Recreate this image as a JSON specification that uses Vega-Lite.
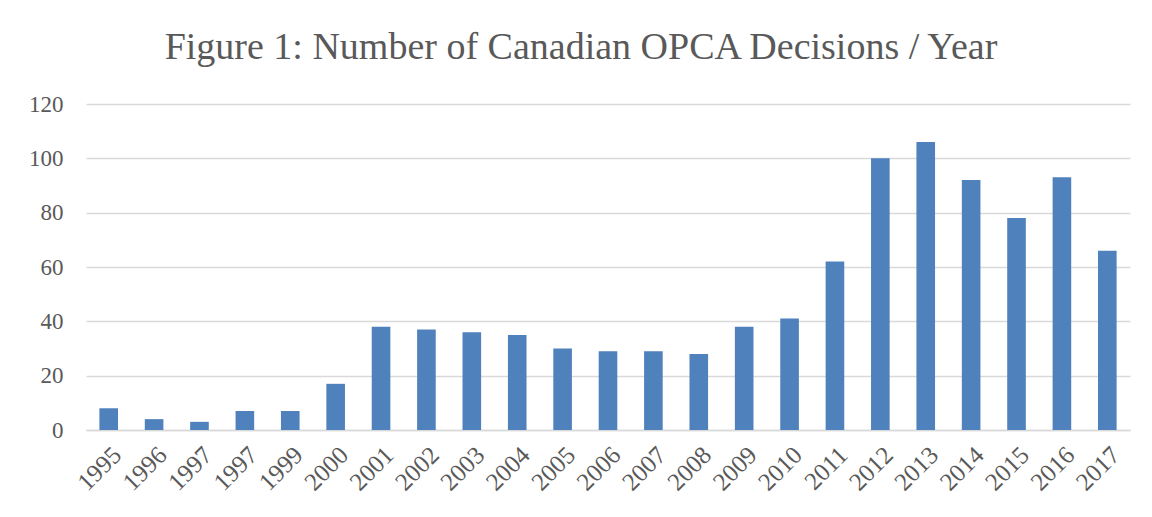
{
  "$schema": "https://vega.github.io/schema/vega-lite/v6.json",
  "autosize": {"type": "none"},
  "width": 1044,
  "height": 326,
  "padding": {"left": 86, "top": 104, "right": 22, "bottom": 87},
  "background": "white",
  "datasets": {
    "opca": [
      {"slot": 1, "year": "1995", "count": 8},
      {"slot": 2, "year": "1996", "count": 4},
      {"slot": 3, "year": "1997", "count": 3},
      {"slot": 4, "year": "1997", "count": 7},
      {"slot": 5, "year": "1999", "count": 7},
      {"slot": 6, "year": "2000", "count": 17},
      {"slot": 7, "year": "2001", "count": 38},
      {"slot": 8, "year": "2002", "count": 37},
      {"slot": 9, "year": "2003", "count": 36},
      {"slot": 10, "year": "2004", "count": 35},
      {"slot": 11, "year": "2005", "count": 30},
      {"slot": 12, "year": "2006", "count": 29},
      {"slot": 13, "year": "2007", "count": 29},
      {"slot": 14, "year": "2008", "count": 28},
      {"slot": 15, "year": "2009", "count": 38},
      {"slot": 16, "year": "2010", "count": 41},
      {"slot": 17, "year": "2011", "count": 62},
      {"slot": 18, "year": "2012", "count": 100},
      {"slot": 19, "year": "2013", "count": 106},
      {"slot": 20, "year": "2014", "count": 92},
      {"slot": 21, "year": "2015", "count": 78},
      {"slot": 22, "year": "2016", "count": 93},
      {"slot": 23, "year": "2017", "count": 66}
    ]
  },
  "data": {"name": "opca"},
  "title": {
    "text": "Figure 1: Number of Canadian OPCA Decisions / Year",
    "font": "Liberation Serif",
    "fontSize": 38,
    "fontWeight": "normal",
    "color": "#595959",
    "anchor": "middle",
    "dx": -27,
    "offset": 26
  },
  "mark": {"type": "bar", "color": "#4f81bd"},
  "encoding": {
    "x": {
      "field": "slot",
      "type": "ordinal",
      "scale": {"paddingInner": 0.59, "paddingOuter": 0.295},
      "axis": {
        "title": null,
        "labelExpr": "data('opca')[datum.value - 1].year",
        "labelAngle": -45,
        "labelFont": "Liberation Serif",
        "labelFontSize": 25,
        "labelColor": "#595959",
        "labelPadding": 12,
        "ticks": false,
        "domainColor": "#d9d9d9",
        "domainWidth": 1.3
      }
    },
    "y": {
      "field": "count",
      "type": "quantitative",
      "scale": {"domain": [0, 120]},
      "axis": {
        "title": null,
        "values": [0, 20, 40, 60, 80, 100, 120],
        "labelFont": "Liberation Serif",
        "labelFontSize": 23,
        "labelColor": "#595959",
        "labelPadding": 23,
        "ticks": false,
        "domain": false,
        "gridColor": "#d9d9d9",
        "gridWidth": 1.3
      }
    }
  },
  "config": {"view": {"stroke": null}}
}
